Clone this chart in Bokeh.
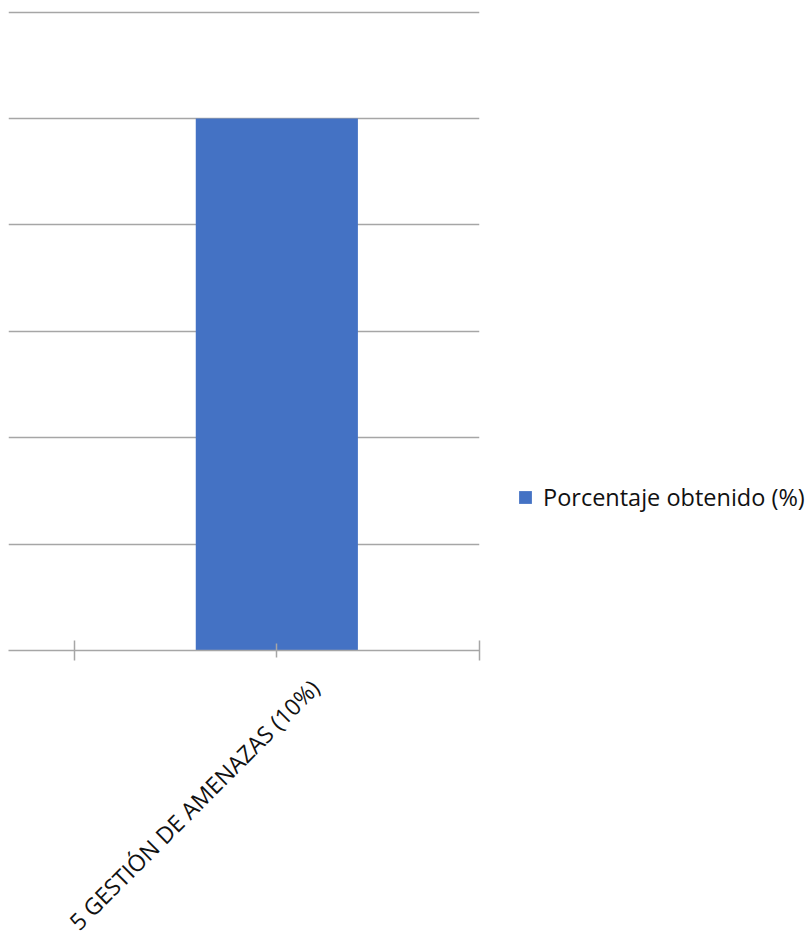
from bokeh.plotting import figure
from bokeh.models import Range1d, FixedTicker, Legend, LegendItem, ColumnDataSource, LinearAxis
from bokeh.embed import file_html
from bokeh.resources import INLINE
import math

categories = ["5 GESTIÓN DE AMENAZAS (10%)"]
positions = [0]
values = [10]
series_name = "Porcentaje obtenido (%)"
y_ticks = [0, 2, 4, 6, 8, 10, 12]

X_START, X_END = -0.662, 0.5
LABEL_SHIFT = 0.094  # category label sits right of its tick, as in the source

src = ColumnDataSource(dict(x=positions, top=values))

p = figure(frame_width=471, frame_height=640, output_backend="svg", toolbar_location=None,
           x_range=Range1d(X_START, X_END), y_range=Range1d(0, 12.03),
           min_border_left=8, min_border_top=10, min_border_right=0, min_border_bottom=280)
p.outline_line_color = None
p.background_fill_color = "white"
p.extra_x_ranges = {"labels": Range1d(X_START - LABEL_SHIFT, X_END - LABEL_SHIFT)}

r = p.vbar(x="x", top="top", width=0.4, bottom=0, source=src, color="#4472C4", line_color=None)

# y axis hidden, gridlines
p.yaxis.visible = False
p.yaxis.ticker = FixedTicker(ticks=y_ticks)
p.ygrid.ticker = FixedTicker(ticks=y_ticks)
p.ygrid.grid_line_color = "#a6a6a6"
p.ygrid.grid_line_width = 1.5
p.xgrid.visible = False

xa = p.xaxis[0]
xa.ticker = FixedTicker(ticks=positions, minor_ticks=[-0.5, 0.5])
xa.major_label_text_alpha = 0
xa.major_label_text_font_size = "1px"
xa.major_label_standoff = 0
xa.axis_line_color = "#a6a6a6"
xa.axis_line_width = 1.5
xa.major_tick_line_color = "#a6a6a6"
xa.major_tick_line_width = 1.5
xa.major_tick_in = 7
xa.major_tick_out = 7
xa.minor_tick_line_color = "#a6a6a6"
xa.minor_tick_line_width = 1.5
xa.minor_tick_in = 10
xa.minor_tick_out = 10

# category label axis
la = LinearAxis(x_range_name="labels", ticker=FixedTicker(ticks=positions, minor_ticks=[]),
                major_label_overrides={pos: c for pos, c in zip(positions, categories)},
                major_label_orientation=math.pi / 4,
                major_label_text_font="Open Sans", major_label_text_font_size="23px",
                major_label_text_color="#111111", major_label_standoff=23,
                axis_line_color=None, major_tick_line_color=None, minor_tick_line_color=None,
                major_tick_in=0, major_tick_out=0, minor_tick_in=0, minor_tick_out=0)
p.add_layout(la, "below")

legend = Legend(items=[LegendItem(label=series_name, renderers=[r])],
                location=(38, 137), orientation="vertical",
                padding=0, margin=0, spacing=0,
                glyph_width=16, glyph_height=16, label_height=24,
                label_text_font="Open Sans", label_text_font_size="23.5px",
                label_text_color="#111111", label_standoff=10,
                border_line_color=None, background_fill_alpha=0)
p.add_layout(legend, "right")

open("out.html", "w").write(file_html(p, INLINE))
